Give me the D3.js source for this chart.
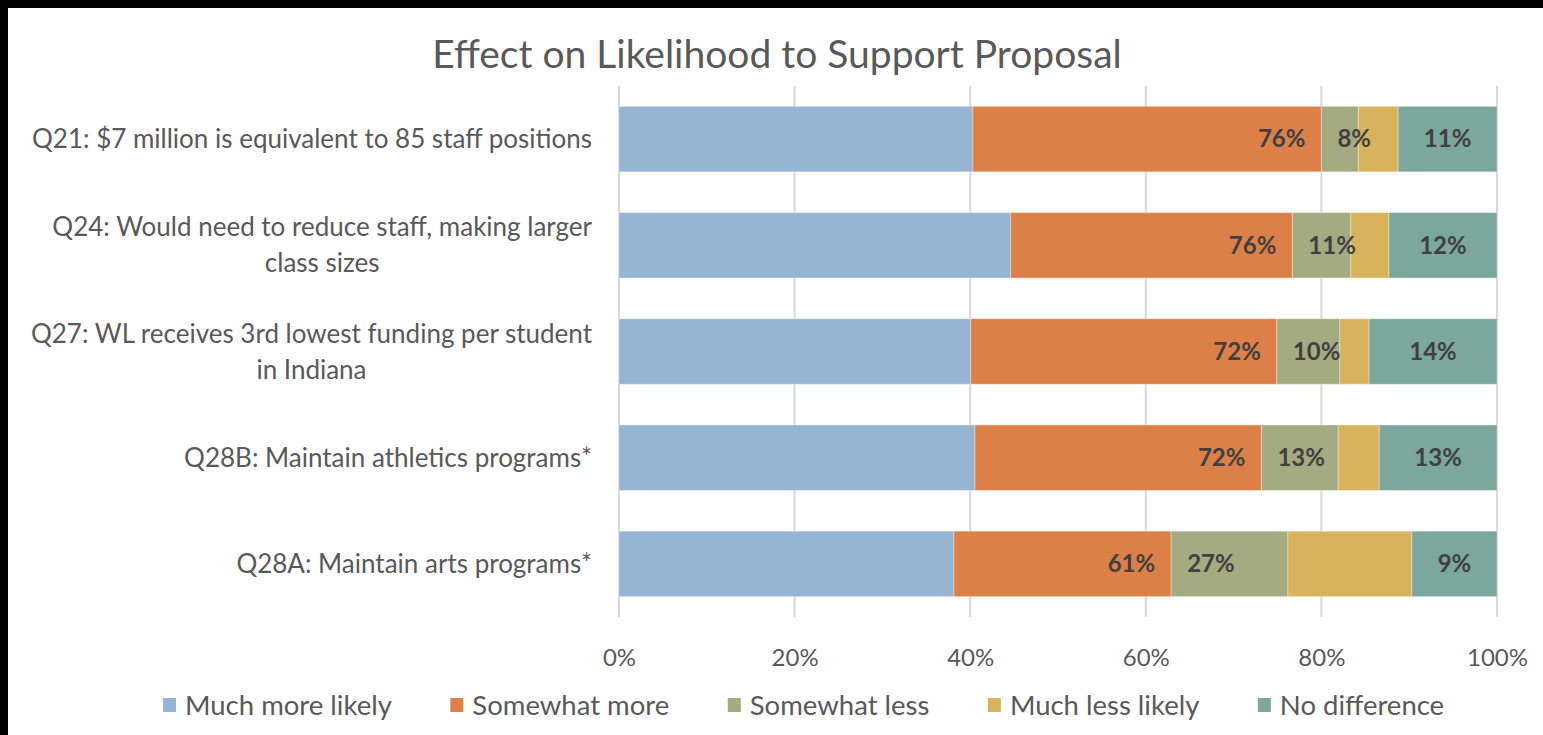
<!DOCTYPE html>
<html>
<head>
<meta charset="utf-8">
<script src="https://cdn.jsdelivr.net/npm/d3@7"></script>
<style>
  html, body { margin: 0; padding: 0; background: #000; }
  svg { display: block; }
</style>
</head>
<body>
<svg id="chart" width="1543" height="735"></svg>
<script>
// Survey items, listed top to bottom
const categories = [
  "Q21: $7 million is equivalent to 85 staff positions",
  "Q24: Would need to reduce staff, making larger\nclass sizes",
  "Q27: WL receives 3rd lowest funding per student\nin Indiana",
  "Q28B: Maintain athletics programs*",
  "Q28A: Maintain arts programs*"
];

const seriesNames = ["Much more likely", "Somewhat more", "Somewhat less", "Much less likely", "No difference"];

// Response shares (%) per item, one array per series
const muchMore     = [38.3, 44.2, 38.5, 39.9, 37.0];
const somewhatMore = [37.7, 31.8, 33.5, 32.1, 24.0];
const somewhatLess = [4.0, 6.6, 6.9, 8.6, 12.9];
const muchLess     = [4.3, 4.3, 3.2, 4.6, 13.7];
const noDifference = [10.7, 12.2, 14.0, 13.2, 9.4];

const xTicks = [0, 0.2, 0.4, 0.6, 0.8, 1.0];

const colors = ["#95B5D3", "#DD8047", "#A5AB81", "#D8B25C", "#7BA79D"];

const seriesValues = [muchMore, somewhatMore, somewhatLess, muchLess, noDifference];
const rows = categories.map((c, i) => {
  const r = { category: c };
  seriesNames.forEach((s, j) => { r[s] = seriesValues[j][i]; });
  return r;
});

const svg = d3.select("#chart");
const W = 1543, H = 735;

// frame: black edge at top and left, white chart area
svg.append("rect").attr("x", 0).attr("y", 0).attr("width", W).attr("height", H).attr("fill", "#000");
svg.append("rect").attr("x", 8).attr("y", 8).attr("width", W - 8).attr("height", H - 8).attr("fill", "#fff");

const plot = { left: 619, right: 1497, top: 86, bottom: 617 };

const x = d3.scaleLinear().domain([0, 1]).range([plot.left, plot.right]);
const y = d3.scaleBand().domain(categories).range([plot.top, plot.bottom])
  .paddingInner(0.3835).paddingOuter(0.1917);

const font = "Lato, 'Open Sans', sans-serif";

// title
svg.append("text")
  .attr("x", 777).attr("y", 68)
  .attr("text-anchor", "middle")
  .attr("font-family", font).attr("font-size", 39)
  .attr("fill", "#595959")
  .text("Effect on Likelihood to Support Proposal");

// vertical gridlines
svg.append("g").selectAll("line").data(xTicks).join("line")
  .attr("x1", d => x(d)).attr("x2", d => x(d))
  .attr("y1", plot.top).attr("y2", plot.bottom)
  .attr("stroke", "#D9D9D9").attr("stroke-width", 2);

// x axis tick labels
const xAxis = d3.axisBottom(x).tickValues(xTicks).tickFormat(d3.format(".0%")).tickSize(0).tickPadding(0);
const gx = svg.append("g").attr("transform", `translate(0,${plot.bottom})`).call(xAxis);
gx.select(".domain").remove();
gx.selectAll("text")
  .attr("y", 49).attr("dy", 0)
  .attr("font-family", font).attr("font-size", 24)
  .attr("fill", "#595959");

// stacked, normalised bars
const stack = d3.stack().keys(seriesNames).offset(d3.stackOffsetExpand);
const layers = stack(rows);

svg.append("g").selectAll("g").data(layers).join("g")
  .attr("fill", (d, i) => colors[i])
  .selectAll("rect").data(d => d).join("rect")
  .attr("x", d => x(d[0]))
  .attr("y", d => y(d.data.category))
  .attr("width", d => x(d[1]) - x(d[0]))
  .attr("height", y.bandwidth())
  .attr("stroke", "#ffffff").attr("stroke-opacity", 0.35).attr("stroke-width", 1);

// category labels (right-aligned block, lines centred within it)
const catG = svg.append("g");
categories.forEach(c => {
  const lines = c.split("\n");
  const cy = y(c) + y.bandwidth() / 2;
  const lh = 36;
  const t = catG.append("text")
    .attr("font-family", font).attr("font-size", 26)
    .attr("fill", "#595959").attr("text-anchor", "middle");
  const spans = lines.map((ln, k) => t.append("tspan")
    .attr("y", cy + (k - (lines.length - 1) / 2) * lh)
    .attr("dy", "0.35em")
    .text(ln));
  const maxW = d3.max(spans, s => s.node().getComputedTextLength());
  spans.forEach(s => s.attr("x", 592 - maxW / 2));
});

// data labels: combined "more likely", combined "less likely", "no difference"
const fmt = v => d3.format(".0f")(v) + "%";
const labG = svg.append("g")
  .attr("font-family", font).attr("font-size", 24).attr("font-weight", "bold")
  .attr("fill", "#404040");
rows.forEach((r, i) => {
  const cy = y(r.category) + y.bandwidth() / 2;
  const moreEnd = layers[1][i][1];
  const lessStart = layers[2][i][0];
  const noDiff = layers[4][i];
  labG.append("text")
    .attr("x", x(moreEnd) - 16).attr("y", cy).attr("dy", "0.35em")
    .attr("text-anchor", "end")
    .text(fmt(muchMore[i] + somewhatMore[i]));
  labG.append("text")
    .attr("x", x(lessStart) + 16).attr("y", cy).attr("dy", "0.35em")
    .attr("text-anchor", "start")
    .text(fmt(somewhatLess[i] + muchLess[i]));
  labG.append("text")
    .attr("x", (x(noDiff[0]) + x(noDiff[1])) / 2).attr("y", cy).attr("dy", "0.35em")
    .attr("text-anchor", "middle")
    .text(fmt(noDifference[i]));
});

// legend
const legG = svg.append("g");
let lx = 163;
const ly = 705;
seriesNames.forEach((s, i) => {
  legG.append("rect")
    .attr("x", lx).attr("y", ly - 7).attr("width", 13).attr("height", 14)
    .attr("fill", colors[i]);
  const t = legG.append("text")
    .attr("x", lx + 22).attr("y", ly).attr("dy", "0.35em")
    .attr("font-family", font).attr("font-size", 27.5)
    .attr("fill", "#595959")
    .text(s);
  lx += 22 + t.node().getComputedTextLength() + 58.5;
});
</script>
</body>
</html>
